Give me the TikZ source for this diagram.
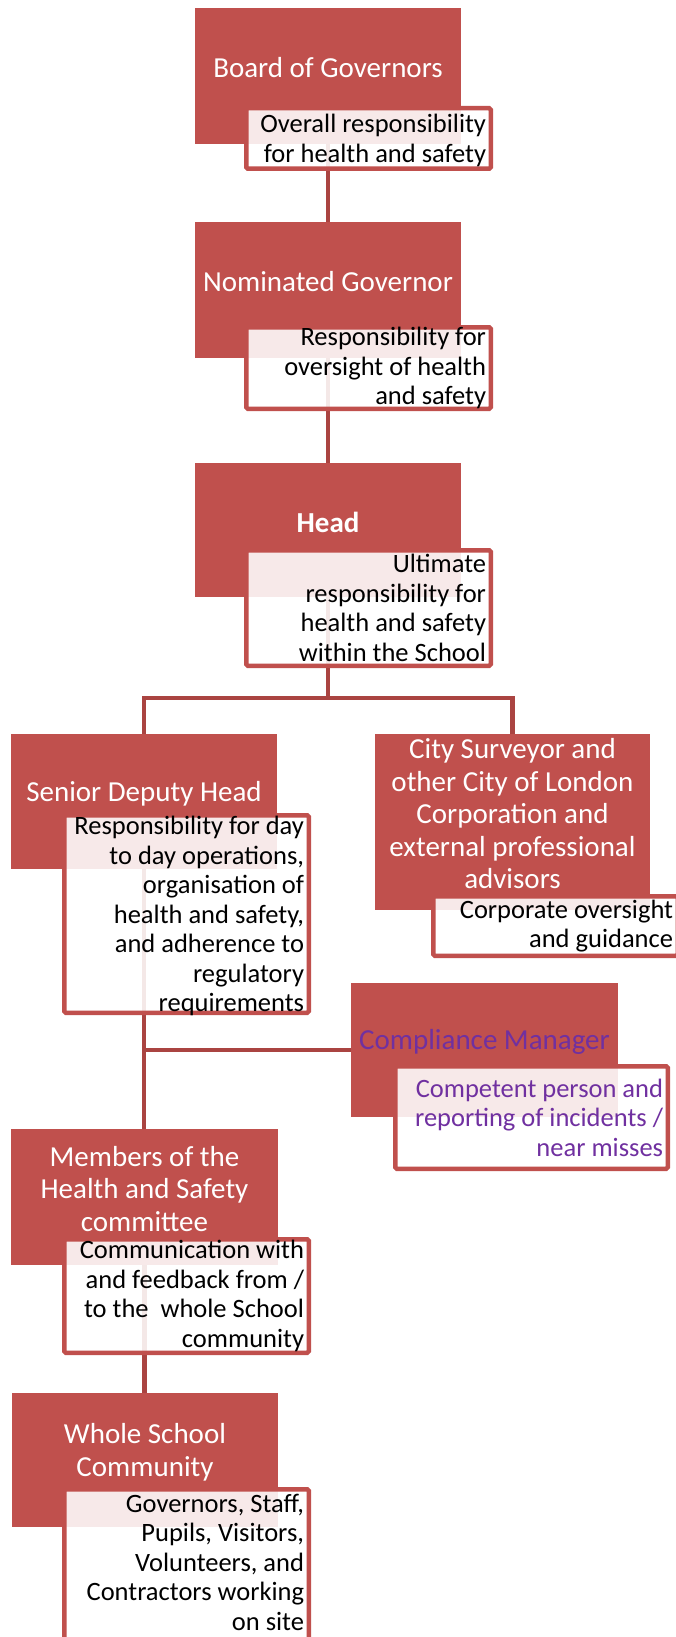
\documentclass[tikz,border=0pt]{standalone}
\usepackage{fontspec}
\setmainfont{Carlito}
\usetikzlibrary{backgrounds}
\definecolor{boxred}{HTML}{C0504D}
\definecolor{linered}{HTML}{AA4441}
\definecolor{cmpurple}{HTML}{7030A0}
\tikzset{
  redbox/.style={fill=boxred, draw=none, inner sep=0pt},
  whitebox/.style={fill=white, fill opacity=0.88, draw=boxred, draw opacity=1, line width=4.5pt, rounded corners=1.5pt, inner sep=0pt},
  titletext/.style={text=white, font=\fontsize{29}{32.5}\selectfont, align=center, inner sep=0pt},
  desctext/.style={text=black, font=\fontsize{26.5}{29.5}\selectfont, align=right, inner sep=0pt, anchor=east},
  conn/.style={draw=linered, line width=4.8pt},
}
\begin{document}
\begin{tikzpicture}[x=1pt,y=-1pt]
\useasboundingbox (0,0) rectangle (676,1637);
\clip (0,0) rectangle (676,1637);
% red boxes
\node[redbox, minimum width=266pt, minimum height=136pt] (boardR) at (328,76) {};
\node[redbox, minimum width=266pt, minimum height=136pt] (nomR) at (328,290) {};
\node[redbox, minimum width=266pt, minimum height=134pt] (headR) at (328,530) {};
\node[redbox, minimum width=266pt, minimum height=135pt] (seniorR) at (144,801.5) {};
\node[redbox, minimum width=275pt, minimum height=176pt] (cityR) at (512.5,822) {};
\node[redbox, minimum width=267pt, minimum height=134pt] (complR) at (484.5,1050) {};
\node[redbox, minimum width=267pt, minimum height=136pt] (membersR) at (144.5,1197) {};
\node[redbox, minimum width=266pt, minimum height=134pt] (wholeR) at (145,1460) {};
% white boxes
\node[whitebox, minimum width=244.5pt, minimum height=60.5pt] (boardW) at (368.5,138.5) {};
\node[whitebox, minimum width=244.5pt, minimum height=81.5pt] (nomW) at (368.5,368) {};
\node[whitebox, minimum width=244.5pt, minimum height=115.5pt] (headW) at (368.5,608) {};
\node[whitebox, minimum width=244.5pt, minimum height=197.5pt] (seniorW) at (186.5,914) {};
\node[whitebox, minimum width=244.5pt, minimum height=59.5pt] (cityW) at (555.5,926) {};
\node[whitebox, minimum width=272.5pt, minimum height=102.5pt] (complW) at (531.5,1117.5) {};
\node[whitebox, minimum width=244.5pt, minimum height=113.5pt] (membersW) at (186.5,1296) {};
\node[whitebox, minimum width=244.5pt, minimum height=153.5pt] (wholeW) at (186.5,1566) {};
% titles
\node[titletext] (boardT) at ([yshift=8pt]boardR.center) {Board of Governors};
\node[titletext] (nomT) at ([yshift=8pt]nomR.center) {Nominated Governor};
\node[titletext, font=\fontsize{29}{32.5}\selectfont\bfseries] (headT) at ([yshift=8pt]headR.center) {Head};
\node[titletext] (seniorT) at ([yshift=8pt]seniorR.center) {Senior Deputy Head};
\node[titletext] (cityT) at ([yshift=8pt]cityR.center) {City Surveyor and\\other City of London\\Corporation and\\external professional\\advisors};
\node[titletext, text=cmpurple] (complT) at ([yshift=8pt]complR.center) {Compliance Manager};
\node[titletext] (membersT) at ([yshift=8pt]membersR.center) {Members of the\\Health and Safety\\committee};
\node[titletext] (wholeT) at ([yshift=8pt]wholeR.center) {Whole School\\Community};
% descriptions
\node[desctext] (boardD) at ([xshift=-6.75pt,yshift=-2pt]boardW.east) {Overall responsibility\\for health and safety};
\node[desctext] (nomD) at ([xshift=-6.75pt]nomW.east) {Responsibility for\\oversight of health\\and safety};
\node[desctext] (headD) at ([xshift=-6.75pt]headW.east) {Ultimate\\responsibility for\\health and safety\\within the School};
\node[desctext] (seniorD) at ([xshift=-6.75pt,yshift=-2pt]seniorW.east) {Responsibility for day\\to day operations,\\organisation of\\health and safety,\\and adherence to\\regulatory\\requirements};
\node[desctext] (cityD) at ([xshift=-6.75pt]cityW.east) {Corporate oversight\\and guidance};
\node[desctext, text=cmpurple] (complD) at ([xshift=-6.75pt]complW.east) {Competent person and\\reporting of incidents /\\near misses};
\node[desctext] (membersD) at ([xshift=-6.75pt]membersW.east) {Communication with\\and feedback from /\\to the\ \ whole School\\community};
\node[desctext] (wholeD) at ([xshift=-6.75pt,yshift=4pt]wholeW.east) {Governors, Staff,\\Pupils, Visitors,\\Volunteers, and\\Contractors working\\on site};
% connectors
\coordinate (hsplit) at (328,698);
\begin{scope}[on background layer]
\draw[conn] (boardR.center) -- (nomR.center);
\draw[conn] (nomR.center) -- (headR.center);
\draw[conn] (headR.center) -- (hsplit);
\draw[conn] (seniorR.center) |- (hsplit) -| (cityR.center);
\draw[conn] (seniorR.center) -- (seniorR.center |- membersR.center);
\draw[conn] (seniorR.center |- complR.center) -- (complR.center);
\draw[conn] (membersR.center) -- (membersR.center |- wholeR.center);
\end{scope}
\end{tikzpicture}
\end{document}
